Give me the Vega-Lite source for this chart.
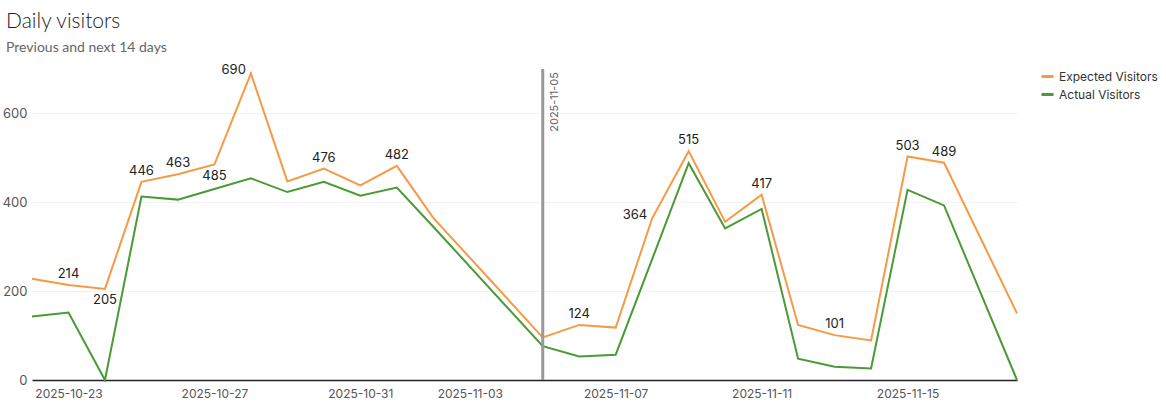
{
  "$schema": "https://vega.github.io/schema/vega-lite/v6.json",
  "width": 985,
  "height": 311,
  "autosize": "none",
  "padding": {"left": 32, "top": 69, "right": 149, "bottom": 30},
  "background": "white",
  "title": {
    "text": "Daily visitors",
    "subtitle": "Previous and next 14 days",
    "anchor": "start",
    "frame": "group",
    "dx": -26,
    "offset": 9,
    "font": "Lato",
    "fontSize": 21,
    "fontWeight": 300,
    "color": "#222222",
    "subtitleFont": "Lato",
    "subtitleFontSize": 14,
    "subtitleFontWeight": 400,
    "subtitleColor": "#666666",
    "subtitlePadding": 9
  },
  "config": {
    "view": {"stroke": null},
    "font": "Inter"
  },
  "data": {
    "values": [
      {"date": "2025-10-22", "series": "Expected Visitors", "visitors": 228},
      {"date": "2025-10-23", "series": "Expected Visitors", "visitors": 214, "labeled": true},
      {"date": "2025-10-24", "series": "Expected Visitors", "visitors": 205, "labeled": true},
      {"date": "2025-10-25", "series": "Expected Visitors", "visitors": 446, "labeled": true},
      {"date": "2025-10-26", "series": "Expected Visitors", "visitors": 463, "labeled": true},
      {"date": "2025-10-27", "series": "Expected Visitors", "visitors": 485, "labeled": true},
      {"date": "2025-10-28", "series": "Expected Visitors", "visitors": 690, "labeled": true},
      {"date": "2025-10-29", "series": "Expected Visitors", "visitors": 447},
      {"date": "2025-10-30", "series": "Expected Visitors", "visitors": 476, "labeled": true},
      {"date": "2025-10-31", "series": "Expected Visitors", "visitors": 438},
      {"date": "2025-11-01", "series": "Expected Visitors", "visitors": 482, "labeled": true},
      {"date": "2025-11-02", "series": "Expected Visitors", "visitors": 365},
      {"date": "2025-11-05", "series": "Expected Visitors", "visitors": 96},
      {"date": "2025-11-06", "series": "Expected Visitors", "visitors": 124, "labeled": true},
      {"date": "2025-11-07", "series": "Expected Visitors", "visitors": 118},
      {"date": "2025-11-08", "series": "Expected Visitors", "visitors": 364, "labeled": true},
      {"date": "2025-11-09", "series": "Expected Visitors", "visitors": 515, "labeled": true},
      {"date": "2025-11-10", "series": "Expected Visitors", "visitors": 356},
      {"date": "2025-11-11", "series": "Expected Visitors", "visitors": 417, "labeled": true},
      {"date": "2025-11-12", "series": "Expected Visitors", "visitors": 124},
      {"date": "2025-11-13", "series": "Expected Visitors", "visitors": 101, "labeled": true},
      {"date": "2025-11-14", "series": "Expected Visitors", "visitors": 89},
      {"date": "2025-11-15", "series": "Expected Visitors", "visitors": 503, "labeled": true},
      {"date": "2025-11-16", "series": "Expected Visitors", "visitors": 489, "labeled": true},
      {"date": "2025-11-18", "series": "Expected Visitors", "visitors": 150},
      {"date": "2025-10-22", "series": "Actual Visitors", "visitors": 143},
      {"date": "2025-10-23", "series": "Actual Visitors", "visitors": 152},
      {"date": "2025-10-24", "series": "Actual Visitors", "visitors": 0},
      {"date": "2025-10-25", "series": "Actual Visitors", "visitors": 413},
      {"date": "2025-10-26", "series": "Actual Visitors", "visitors": 406},
      {"date": "2025-10-27", "series": "Actual Visitors", "visitors": 430},
      {"date": "2025-10-28", "series": "Actual Visitors", "visitors": 454},
      {"date": "2025-10-29", "series": "Actual Visitors", "visitors": 423},
      {"date": "2025-10-30", "series": "Actual Visitors", "visitors": 446},
      {"date": "2025-10-31", "series": "Actual Visitors", "visitors": 415},
      {"date": "2025-11-01", "series": "Actual Visitors", "visitors": 433},
      {"date": "2025-11-02", "series": "Actual Visitors", "visitors": 345},
      {"date": "2025-11-05", "series": "Actual Visitors", "visitors": 76},
      {"date": "2025-11-06", "series": "Actual Visitors", "visitors": 53},
      {"date": "2025-11-07", "series": "Actual Visitors", "visitors": 57},
      {"date": "2025-11-08", "series": "Actual Visitors", "visitors": 272},
      {"date": "2025-11-09", "series": "Actual Visitors", "visitors": 488},
      {"date": "2025-11-10", "series": "Actual Visitors", "visitors": 341},
      {"date": "2025-11-11", "series": "Actual Visitors", "visitors": 385},
      {"date": "2025-11-12", "series": "Actual Visitors", "visitors": 48},
      {"date": "2025-11-13", "series": "Actual Visitors", "visitors": 30},
      {"date": "2025-11-14", "series": "Actual Visitors", "visitors": 26},
      {"date": "2025-11-15", "series": "Actual Visitors", "visitors": 428},
      {"date": "2025-11-16", "series": "Actual Visitors", "visitors": 393},
      {"date": "2025-11-18", "series": "Actual Visitors", "visitors": 0}
    ]
  },
  "encoding": {
    "x": {
      "field": "date",
      "type": "temporal",
      "scale": {
        "type": "utc",
        "domain": [
          {"year": 2025, "month": 10, "date": 22, "utc": true},
          {"year": 2025, "month": 11, "date": 18, "utc": true}
        ]
      },
      "axis": {
        "title": null,
        "values": [
          {"year": 2025, "month": 10, "date": 23, "utc": true},
          {"year": 2025, "month": 10, "date": 27, "utc": true},
          {"year": 2025, "month": 10, "date": 31, "utc": true},
          {"year": 2025, "month": 11, "date": 3, "utc": true},
          {"year": 2025, "month": 11, "date": 7, "utc": true},
          {"year": 2025, "month": 11, "date": 11, "utc": true},
          {"year": 2025, "month": 11, "date": 15, "utc": true}
        ],
        "labelExpr": "utcFormat(datum.value, '%Y-%m-%d')",
        "ticks": false,
        "grid": false,
        "domainColor": "#222222",
        "domainWidth": 1.5,
        "labelFont": "Inter",
        "labelFontSize": 12,
        "labelColor": "#555555",
        "labelPadding": 8,
        "labelOverlap": false
      }
    }
  },
  "layer": [
    {
      "mark": {"type": "line", "strokeWidth": 2},
      "encoding": {
        "y": {
          "field": "visitors",
          "type": "quantitative",
          "scale": {"domain": [0, 700], "nice": false},
          "axis": {
            "title": null,
            "values": [0, 200, 400, 600],
            "domain": false,
            "ticks": false,
            "grid": true,
            "gridColor": "#f2f2f2",
            "labelFont": "Inter",
            "labelFontSize": 13,
            "labelColor": "#555555",
            "labelPadding": 5
          }
        },
        "color": {
          "field": "series",
          "type": "nominal",
          "scale": {
            "domain": ["Expected Visitors", "Actual Visitors"],
            "range": ["#F59A45", "#4A9A35"]
          },
          "legend": {
            "orient": "none",
            "legendX": 1008,
            "legendY": 0,
            "title": null,
            "symbolType": "stroke",
            "symbolStrokeWidth": 3,
            "symbolSize": 144,
            "labelFont": "Inter",
            "labelFontSize": 12,
            "labelColor": "#333333",
            "rowPadding": 4
          }
        }
      }
    },
    {
      "transform": [{"filter": "datum.labeled && indexof(['2025-10-24','2025-10-27','2025-10-28','2025-11-08'], utcFormat(datum.date, '%Y-%m-%d')) < 0"}],
      "mark": {"type": "text", "dy": -11, "baseline": "middle", "font": "Inter", "fontSize": 13, "color": "#222222"},
      "encoding": {
        "y": {"field": "visitors", "type": "quantitative"},
        "text": {"field": "visitors", "type": "quantitative"}
      }
    },
    {
      "transform": [{"filter": "datum.labeled && indexof(['2025-10-24','2025-10-27'], utcFormat(datum.date, '%Y-%m-%d')) >= 0"}],
      "mark": {"type": "text", "dy": 11, "baseline": "middle", "font": "Inter", "fontSize": 13, "color": "#222222"},
      "encoding": {
        "y": {"field": "visitors", "type": "quantitative"},
        "text": {"field": "visitors", "type": "quantitative"}
      }
    },
    {
      "transform": [{"filter": "datum.labeled && indexof(['2025-10-28','2025-11-08'], utcFormat(datum.date, '%Y-%m-%d')) >= 0"}],
      "mark": {"type": "text", "align": "right", "dx": -5, "dy": -3, "baseline": "middle", "font": "Inter", "fontSize": 13, "color": "#222222"},
      "encoding": {
        "y": {"field": "visitors", "type": "quantitative"},
        "text": {"field": "visitors", "type": "quantitative"}
      }
    },
    {
      "data": {"values": [{"date": "2025-11-05", "marker": "2025-11-05"}]},
      "mark": {"type": "rule", "color": "#999999", "strokeWidth": 3},
      "encoding": {}
    },
    {
      "data": {"values": [{"date": "2025-11-05", "marker": "2025-11-05"}]},
      "mark": {"type": "text", "angle": 270, "align": "right", "baseline": "middle", "dx": -3, "dy": 12, "font": "Inter", "fontSize": 11, "color": "#666666"},
      "encoding": {
        "y": {"value": 0},
        "text": {"field": "marker", "type": "nominal"}
      }
    }
  ]
}
